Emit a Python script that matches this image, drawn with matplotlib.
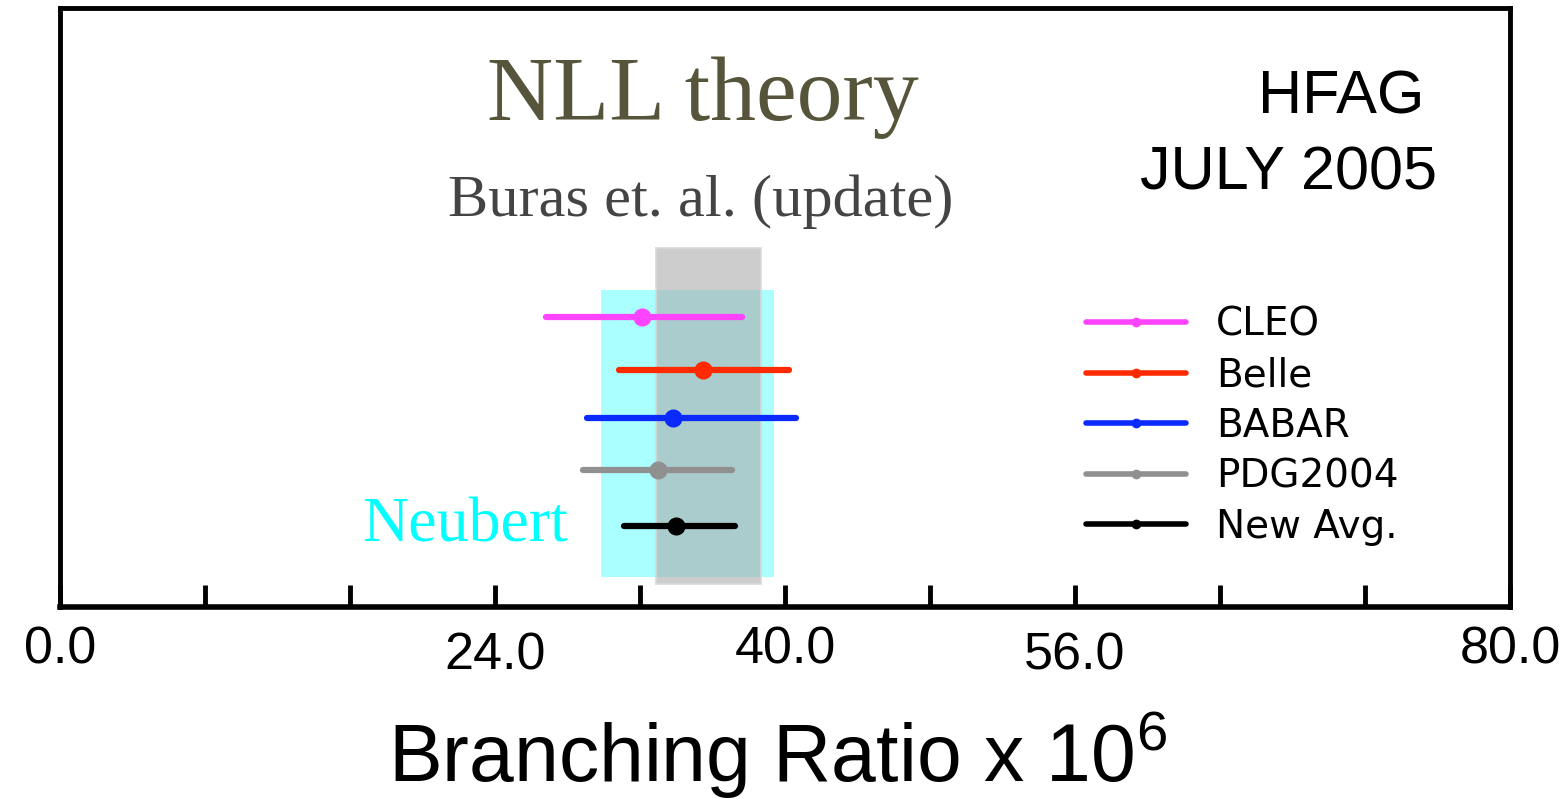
import matplotlib
matplotlib.use("Agg")
import matplotlib.pyplot as plt
from matplotlib.lines import Line2D

# ---- data ----
experiments = ["CLEO", "Belle", "BABAR", "PDG2004", "New Avg."]
central = [32.1, 35.5, 33.8, 33.0, 34.0]
lower = [26.8, 30.85, 29.1, 28.85, 31.1]
upper = [37.6, 40.2, 40.6, 37.1, 37.25]
colors = ["#ff44ff", "#ff2a00", "#0a2aff", "#909090", "#000000"]
rows = [4.84, 3.96, 3.16, 2.29, 1.35]

neubert_band = (29.85, 39.4)
buras_band = (32.9, 38.7)

xticks = [0, 8, 16, 24, 32, 40, 48, 56, 64, 72, 80]
xticklabels = ["0.0", "", "", "24.0", "", "40.0", "", "56.0", "", "", "80.0"]

plt.rcParams["mathtext.fontset"] = "custom"
plt.rcParams["mathtext.rm"] = "Liberation Sans"

W, H = 1559, 799
fig = plt.figure(figsize=(W / 100, H / 100), dpi=100)

def fx(px):
    return px / W

def fy(py):
    return 1 - py / H

ax = fig.add_axes([fx(60), fy(607), fx(1510) - fx(60), fy(8) - fy(607)])
ax.set_xlim(0, 80)
ax.set_ylim(0, 10)

# bands
ax.axvspan(neubert_band[0], neubert_band[1], ymin=(607 - 577) / 599, ymax=(607 - 290) / 599,
           facecolor=(0.0, 1.0, 1.0, 0.333), edgecolor="none", zorder=1)
ax.axvspan(buras_band[0], buras_band[1], ymin=(607 - 584) / 599, ymax=(607 - 248) / 599,
           facecolor=(170 / 255, 170 / 255, 170 / 255, 0.6), edgecolor=(0.85, 0.85, 0.85, 0.8),
           linewidth=1.5, zorder=2)

# measurements
for name, c, lo, hi, col, y in zip(experiments, central, lower, upper, colors, rows):
    ax.plot([lo, hi], [y, y], color=col, lw=4.5, solid_capstyle="round", zorder=3)
    ax.plot([c], [y], "o", color=col, markersize=12, zorder=4)

# spines
for s in ["top", "left", "right"]:
    ax.spines[s].set_linewidth(3.5)
ax.spines["bottom"].set_linewidth(4)

ax.set_yticks([])
ax.set_xticks(xticks)
ax.set_xticklabels(xticklabels, fontfamily="Liberation Sans", fontsize=37.5)
ax.tick_params(axis="x", direction="in", length=16, width=3.5, pad=13.5)
for t, lab in zip(ax.xaxis.get_major_ticks(), xticklabels):
    if lab in ("24.0", "56.0"):
        t.set_pad(18)

# legend
handles = [Line2D([0], [0], color=col, lw=4, marker="o", markersize=6, solid_capstyle="round")
           for col in colors]
leg = ax.legend(handles, experiments, loc="upper left",
                bbox_to_anchor=(fx(1086), fy(306)), bbox_transform=fig.transFigure,
                frameon=False, borderpad=0, borderaxespad=0,
                prop={"family": "DejaVu Sans", "size": 28},
                handlelength=2.57, handletextpad=0.77, labelspacing=0.32)

# texts
fig.text(fx(703), fy(120), "NLL theory", family="Liberation Serif", fontsize=66,
         color="#56553b", ha="center", va="baseline")
fig.text(fx(701), fy(216), "Buras et. al. (update)", family="Liberation Serif", fontsize=43.5,
         color="#444444", ha="center", va="baseline")
fig.text(fx(465), fy(542), "Neubert", family="Liberation Serif", fontsize=46,
         color="#00ffff", ha="center", va="baseline")
fig.text(fx(1341), fy(113), "HFAG", family="Liberation Sans", fontsize=44,
         color="black", ha="center", va="baseline")
fig.text(fx(1289), fy(189), "JULY 2005", family="Liberation Sans", fontsize=44,
         color="black", ha="center", va="baseline")

fig.text(fx(777), fy(782), r"Branching Ratio x 10$^{\mathrm{6}}$", family="Liberation Sans",
         fontsize=58, color="black", ha="center", va="baseline")

fig.savefig("out.png", dpi=100)
